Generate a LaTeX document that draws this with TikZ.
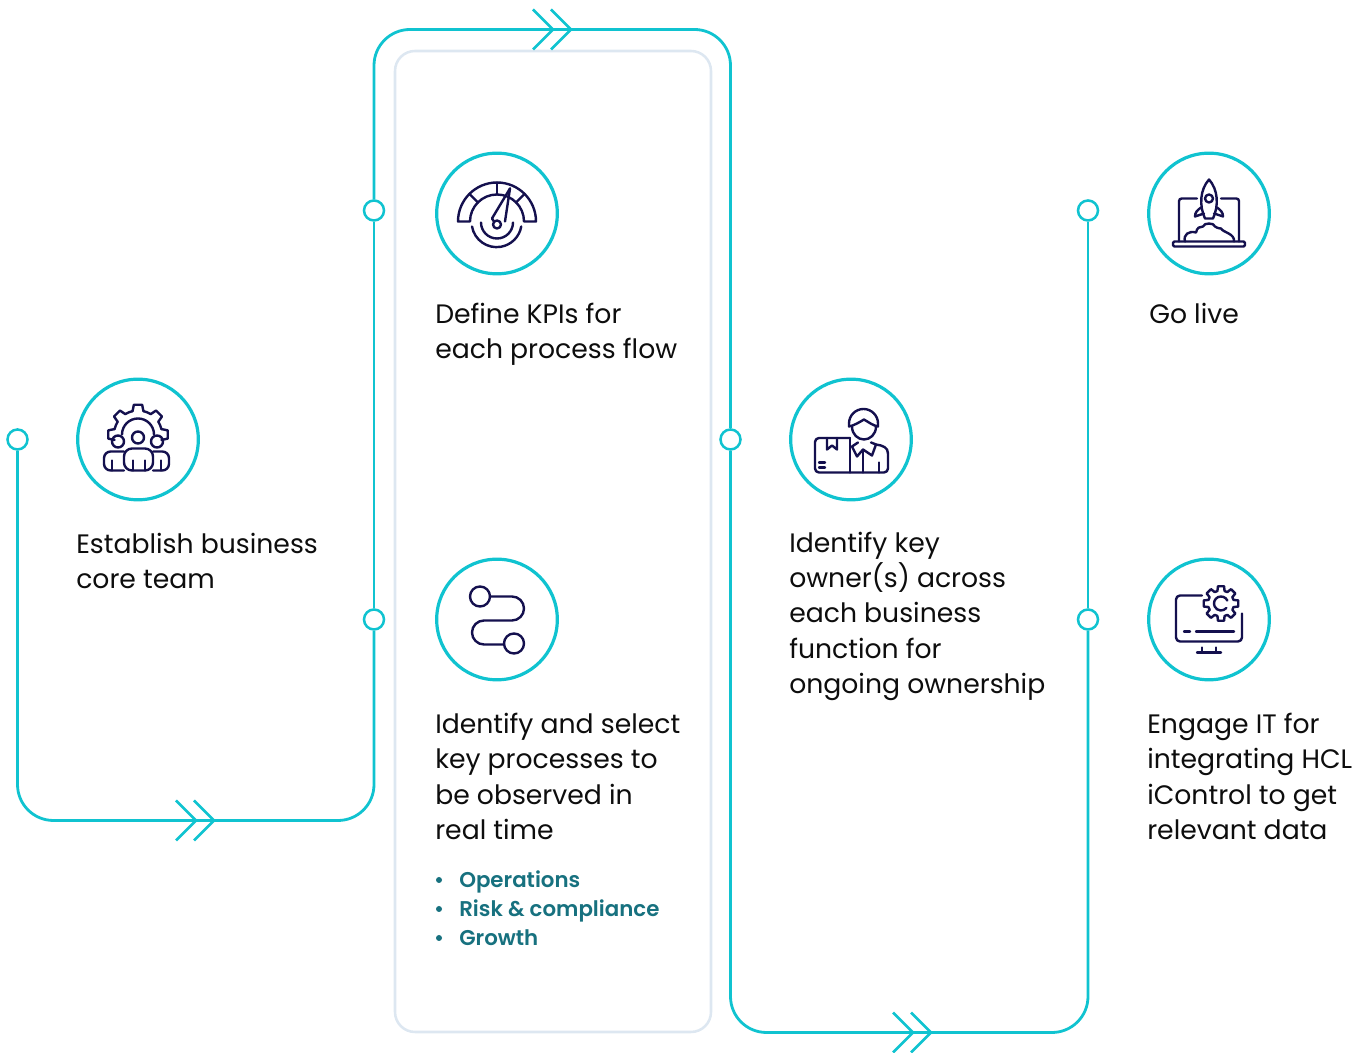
\documentclass[tikz,border=0pt]{standalone}
\usepackage{fontspec}
\setmainfont{Poppins}
\newfontfamily\subfont{Poppins SemiBold}
\usepackage{xcolor}
\usetikzlibrary{calc}
\definecolor{trackcol}{HTML}{10C3D0}
\definecolor{cardcol}{HTML}{DDE7F1}
\definecolor{navycol}{HTML}{14104E}
\definecolor{tealcol}{HTML}{17717F}
\tikzset{
	track/.style={draw=trackcol, line width=2.1pt},
	card/.style={draw=cardcol, line width=1.9pt, rounded corners=15pt, fill=white, minimum width=237pt, minimum height=735.75pt, inner sep=0pt},
	ring/.style={circle, draw=trackcol, line width=2.4pt, fill=white, minimum size=90.5pt, inner sep=0pt},
	dot/.style={circle, draw=trackcol, line width=1.9pt, fill=white, minimum size=15pt, inner sep=0pt},
	icon/.style={draw=navycol, line width=1.8pt, line cap=round, line join=round},
	step label/.style={anchor=base west, align=left, inner sep=0pt, font=\fontsize{20pt}{26.5pt}\selectfont, text=black!95},
	sub label/.style={anchor=base west, inner sep=0pt, font=\fontsize{16pt}{20pt}\subfont, text=tealcol},
	bullet/.style={circle, fill=tealcol, minimum size=4.5pt, inner sep=0pt}
}
\begin{document}
\begin{tikzpicture}[x=0.75pt, y=0.75pt]
		\newcommand{\gearring}[3]{
			\foreach \a in {0,45,...,315}
				\draw[icon] (\a-16:#1) -- (\a-10:#2) -- (\a+10:#2) -- (\a+16:#1) arc (\a+16:\a+29:#1);
		}
		\useasboundingbox (0,0) rectangle (1372,1053);
		
		\node[card] (card) at (553,511.5) {};
		
		\node[dot] (dotStart) at (17.5,613.5) {};
		\node[dot] (dotKpi) at (374,842.5) {};
		\node[dot] (dotProc) at (374,433.5) {};
		\node[dot] (dotOwner) at (730.5,613.5) {};
		\node[dot] (dotIt) at (1088,433.5) {};
		\node[dot] (dotLive) at (1088,842.5) {};
		
		\coordinate (chevA) at (214,232.5);
		\coordinate (chevB) at (571,1023.5);
		\coordinate (chevC) at (931,20.5);
		
		\draw[track, rounded corners=27pt] (dotStart) |- (chevA) -| (dotProc);
		\draw[track] (dotProc) to (dotKpi);
		\draw[track, rounded corners=27pt] (dotKpi) |- (chevB) -| (dotOwner);
		\draw[track, rounded corners=27pt] (dotOwner) |- (chevC) -| (dotIt);
		\draw[track] (dotIt) to (dotLive);
		
		\foreach \c in {chevA,chevB,chevC} {
			\draw[track] (\c) ++(-20,20) -- ++(20,-20) -- ++(-20,-20);
			\draw[track] (\c) ++(-38,20) -- ++(20,-20) -- ++(-20,-20);
		}
		
		\node[ring] (ringTeam) at (138,613.5) {};
		\node[ring] (ringKpi) at (497,839.5) {};
		\node[ring] (ringProc) at (497,433.5) {};
		\node[ring] (ringOwner) at (851,613.5) {};
		\node[ring] (ringLive) at (1209,839.5) {};
		\node[ring] (ringIt) at (1209,433.5) {};
		
		\node[step label] (textTeam) at (76,464.5) {Establish business\\core team};
		\node[step label] (textKpi) at (435,694) {Define KPIs for\\each process flow};
		\node[step label] (textProc) at (435,213.5) {Identify and select\\key processes to\\be observed in\\real time};
		\node[step label] (textOwner) at (789,359.5) {Identify key\\owner(s) across\\each business\\function for\\ongoing ownership};
		\node[step label] (textLive) at (1149,729) {Go live};
		\node[step label] (textIt) at (1147,213.5) {Engage IT for\\integrating HCL\\iControl to get\\relevant data};
		
		\node[sub label] (subOps) at (459,165) {Operations};
		\node[sub label] (subRisk) at (459,136) {Risk \& compliance};
		\node[sub label] (subGrowth) at (459,107) {Growth};
		\node[bullet] at (439,173) {};
		\node[bullet] at (439,144) {};
		\node[bullet] at (439,115) {};
		
		\begin{scope}[shift={(ringTeam)}, xshift=0.75pt]
			\begin{scope}[shift={(-1,5)}]
				\foreach \a in {0,45,...,180}
					\draw[icon] (\a-13:24) -- (\a-8:30) -- (\a+8:30) -- (\a+13:24);
				\foreach \a in {0,45,90,135}
					\draw[icon] (\a+13:24) arc (\a+13:\a+32:24);
				\draw[icon] (-16,0) arc (180:0:16);
			\end{scope}
			\draw[icon] (-1,2) circle (6);
			\draw[icon] (-21,-2) circle (6);
			\draw[icon] (18,-2) circle (6);
			\draw[icon, rounded corners=6pt] (-15,-31) -- (-15,-9) -- (14,-9) -- (14,-31) -- cycle;
			\draw[icon, rounded corners=5pt] (-15,-12) -- (-35,-12) -- (-35,-31) -- (-15,-31);
			\draw[icon, rounded corners=5pt] (14,-12) -- (30,-12) -- (30,-31) -- (14,-31);
			\draw[icon] (-27,-21) -- (-27,-31);
			\draw[icon] (-6,-21) -- (-6,-31);
			\draw[icon] (6,-21) -- (6,-31);
			\draw[icon] (22,-21) -- (22,-31);
		\end{scope}
		
		\begin{scope}[shift={(ringKpi)}]
			\draw[icon] (-39,-8) arc (180:0:39) -- (27,-8) arc (0:180:27) -- cycle;
			\draw[icon] (0,31) -- (0,19);
			\draw[icon] (-27.6,19.6) -- (-19,11);
			\draw[icon] (27.6,19.6) -- (19,11);
			\draw[icon] (13,25) -- (-5,-5);
			\draw[icon] (13,25) -- (8,-8);
			\draw[icon] (-5,-5) -- (-3,-8);
			\draw[icon] (0,-11) circle (4);
			\draw[icon] (-16,-9) arc (180:360:16);
			\draw[icon] (-25,-13) arc (190:350:25);
		\end{scope}
		
		\begin{scope}[shift={(ringProc)}]
			\draw[icon] (-17,23) circle (10);
			\draw[icon] (17,-24) circle (10);
			\draw[icon] (-7,23) -- (15,23) arc (90:-90:12) -- (-13,-1) arc (90:270:12) -- (7,-25);
		\end{scope}
		
		\begin{scope}[shift={(ringOwner)}]
			\draw[icon] (-2,16) arc (180:0:14.5) -- (27,13) .. controls (22,14) and (18,17) .. (13,20) .. controls (8,17) and (3,14) .. (-2,13) -- cycle;
			\draw[icon] (1,13) .. controls (1,5) and (7,0) .. (13,0) .. controls (19,0) and (25,5) .. (25,13);
			\draw[icon, rounded corners=3pt] (-1,1.5) -- (-36,1.5) -- (-36,-33) -- (37,-33) -- (37,-14);
			\draw[icon] (-1,1.5) -- (-1,-33);
			\draw[icon] (-24,1.5) -- (-24,-10) -- (-19,-6) -- (-14,-10) -- (-14,1.5);
			\draw[icon] (-32,-23) -- (-26,-23);
			\draw[icon] (-32,-28) -- (-26,-28);
			\draw[icon] (7,-3) -- (1,-7) -- (6,-17) -- (12,-10) -- (21,-16) -- (25,-5) -- (20,-3);
			\draw[icon] (25,-5) .. controls (32,-6) and (37,-8) .. (37,-14);
			\draw[icon] (12,-10) -- (12,-33);
			\draw[icon] (28,-23) -- (28,-33);
		\end{scope}
		
		\begin{scope}[shift={(ringLive)}]
			\draw[icon, rounded corners=2pt] (-12,15) -- (-30,15) -- (-30,-28);
			\draw[icon, rounded corners=2pt] (12,15) -- (30,15) -- (30,-28);
			\draw[icon, rounded corners=1pt] (-36,-28) rectangle (36,-33);
			\draw[icon] (-4,-5) .. controls (-10,8) and (-9,24) .. (0,34) .. controls (9,24) and (10,8) .. (4,-5) -- cycle;
			\draw[icon] (0,15) circle (4);
			\draw[icon] (-8,6) .. controls (-12,3) and (-14,1) .. (-14,-3) -- (-5,0);
			\draw[icon] (8,6) .. controls (12,3) and (14,1) .. (14,-3) -- (5,0);
			\draw[icon] (-24,-28) .. controls (-26,-21) and (-20,-17) .. (-13,-19) .. controls (-12,-14) and (-9,-13) .. (-6,-13) .. controls (-5,-9) and (5,-9) .. (6,-13) .. controls (9,-15) and (11,-15) .. (12,-15) .. controls (14,-19) and (26,-20) .. (25,-28);
		\end{scope}
		
		\begin{scope}[shift={(ringIt)}]
			\draw[icon, rounded corners=3pt] (-7,24) -- (-33,24) -- (-33,-22) -- (33,-22) -- (33,6);
			\draw[icon] (-25,-12) -- (-19,-12);
			\draw[icon] (-13,-12) -- (25,-12);
			\draw[icon] (-7,-28) -- (-7,-33);
			\draw[icon] (7,-28) -- (7,-33);
			\draw[icon] (-12,-33) -- (12,-33);
			\begin{scope}[shift={(12,16)}]
				\gearring{13}{17.5}{}
				\draw[icon] (25:7) arc (25:320:7);
			\end{scope}
		\end{scope}
	\end{tikzpicture}
\end{document}
